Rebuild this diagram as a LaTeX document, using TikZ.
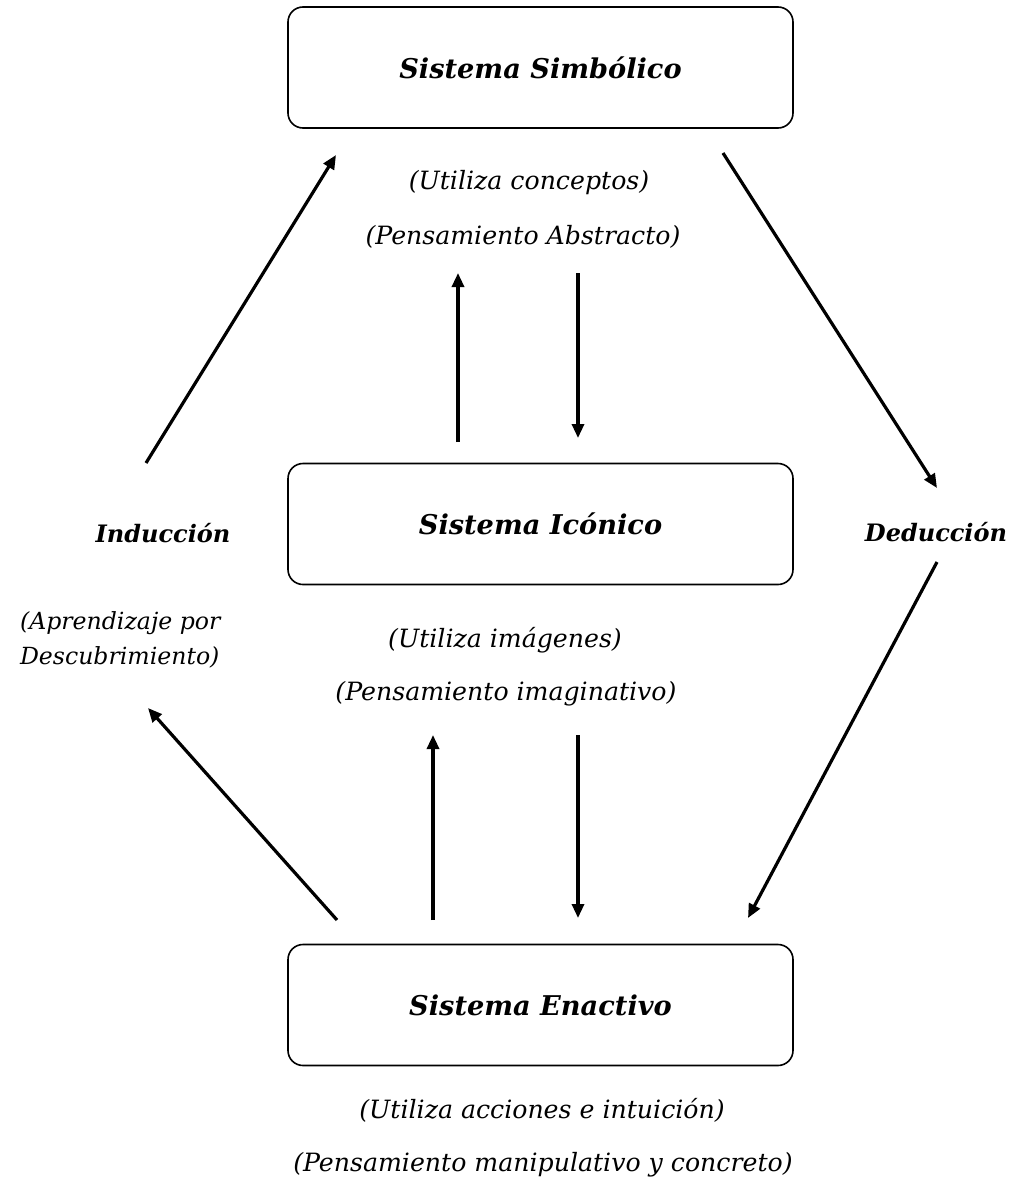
\documentclass[tikz,border=0pt]{standalone}
\usepackage{fontspec}
\setmainfont{DejaVu Serif}
\usetikzlibrary{arrows.meta}
\usetikzlibrary{positioning}

\begin{document}
\begin{tikzpicture}[x=0.5pt, y=-0.5pt,
    sistema/.style={draw, rounded corners=7.5pt, line width=0.8pt, minimum width=252.5pt, minimum height=60.5pt, font=\fontsize{13.6}{15}\selectfont\bfseries\itshape},
    nota/.style={font=\fontsize{12.6}{17.5}\selectfont\itshape},
    clave/.style={font=\fontsize{12}{14}\selectfont\bfseries\itshape},
    flecha/.style={line width=1.6pt, -{Triangle[length=7pt, width=6pt]}}]
    \useasboundingbox (0,0) rectangle (1015,1178);
    \node[sistema] (sim) at (540.5,67.5) {Sistema Simbólico};
    \node[sistema] (ico) at (540.5,524) {Sistema Icónico};
    \node[sistema] (ena) at (540.5,1005) {Sistema Enactivo};
    \node[nota] (uc) at (529,183) {(Utiliza conceptos)};
    \node[nota] (pa) at (523,237) {(Pensamiento Abstracto)};
    \node[nota] (ui) at (505,640) {(Utiliza imágenes)};
    \node[nota] (pi) at (506,694) {(Pensamiento imaginativo)};
    \node[nota] (ua) at (542,1110) {(Utiliza acciones e intuición)};
    \node[nota] (pm) at (543,1165) {(Pensamiento manipulativo y concreto)};
    \node[clave] (ind) at (163,533) {Inducción};
    \node[clave] (ded) at (936,532) {Deducción};
    \node[nota, font=\fontsize{11.8}{17.5}\selectfont\itshape, align=left, anchor=west] (apr) at (13,640) {(Aprendizaje por\\Descubrimiento)};
    % extremos de las flechas
    \coordinate (i1) at (146,463);
    \coordinate (i2) at (336,155);
    \coordinate (i3) at (337,920);
    \coordinate (i4) at (148,708);
    \coordinate (d1) at (723,153);
    \coordinate (d2) at (937,488);
    \coordinate (d3) at (937,562);
    \coordinate (d4) at (748,918);
    \coordinate (s1) at (458,442);
    \coordinate (s2) at (458,273);
    \coordinate (s3) at (578,273);
    \coordinate (s4) at (578,438);
    \coordinate (e1) at (433,920);
    \coordinate (e2) at (433,735);
    \coordinate (e3) at (578,735);
    \coordinate (e4) at (578,918);
    \draw[flecha] (i1) -- (i2);
    \draw[flecha] (i3) -- (i4);
    \draw[flecha] (d1) -- (d2);
    \draw[flecha] (d3) -- (d4);
    \draw[flecha] (s1) -- (s2);
    \draw[flecha] (s3) -- (s4);
    \draw[flecha] (e1) -- (e2);
    \draw[flecha] (e3) -- (e4);
\end{tikzpicture}
\end{document}
